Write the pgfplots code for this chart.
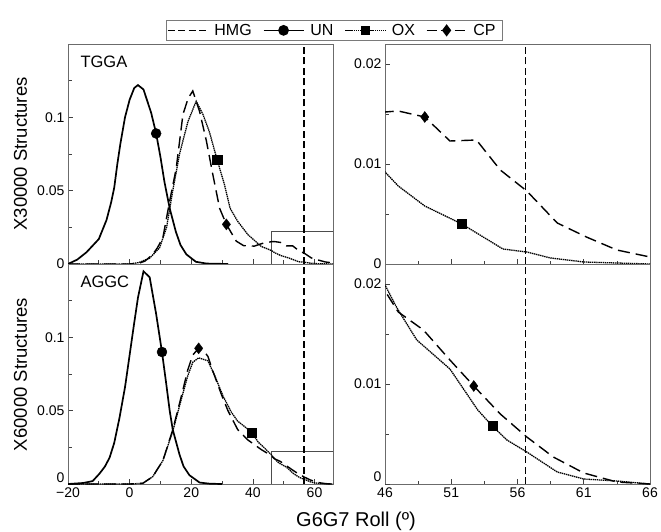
\documentclass[border=0pt]{standalone}
\usepackage{fontspec}
\setmainfont{Liberation Sans}
\usepackage{pgfplots}
\usepackage{pgfplotstable}
\pgfplotsset{compat=1.18}
\definecolor{frame}{gray}{0.42}

% ---------- TGGA (top) ----------
\pgfplotstableread{
x y
-20 0
-17 0.003
-14 0.008
-10 0.017
-7.5 0.030
-6 0.042
-5 0.052
-4 0.068
-3 0.082
-1.5 0.100
0 0.112
1.5 0.120
2.7 0.122
4.5 0.119
7 0.103
8.6 0.089
10 0.073
11.3 0.056
13 0.038
15 0.022
16.5 0.013
18.4 0.0066
21.5 0.0015
25 0.0003
32 0
}\unT
\pgfplotstableread{
x y
-20 0
0 0
3 0.001
6.5 0.004
9.7 0.011
12 0.025
14 0.050
16.2 0.075
18.9 0.097
21.6 0.111
23.8 0.102
25.9 0.090
28.4 0.071
30.8 0.054
32.6 0.038
35.1 0.029
38.4 0.020
42.7 0.012
46 0.0092
47 0.0078
49 0.0058
51.8 0.0040
54.9 0.0015
56.7 0.0012
58.5 0.0006
61 0.0002
66 0
}\oxT
\pgfplotstableread{
x y
-20 0
0 0
3 0.0005
5 0.002
7.5 0.0066
9 0.011
10.8 0.018
13 0.043
15.1 0.065
17.3 0.102
19 0.113
20.5 0.118
22.7 0.104
24.9 0.084
27 0.061
29.2 0.038
31.4 0.027
34.6 0.0156
37 0.0125
40.5 0.0122
43 0.014
46 0.0152
47 0.0153
49 0.0147
50.9 0.0123
52.9 0.0124
54.7 0.0094
56.7 0.0073
59 0.0041
61.2 0.0027
63.5 0.0014
66 0.0007
}\cpT
% ---------- AGGC (bottom) ----------
\pgfplotstableread{
x y
-20 0
-15 0.0007
-12 0.002
-9.8 0.007
-8 0.012
-6.5 0.018
-5 0.028
-3.3 0.045
-1.5 0.066
0 0.088
1.5 0.110
2.7 0.127
4.5 0.145
6.5 0.141
8.6 0.116
10.5 0.090
11.9 0.068
13 0.050
14 0.037
16.2 0.020
17.5 0.012
19.4 0.006
22.7 0.001
26 0.0002
30 0
}\unB
\pgfplotstableread{
x y
-20 0
0 0
4.3 0.0005
7.5 0.005
10.8 0.016
14 0.036
16.8 0.058
18.9 0.074
20.5 0.083
22.4 0.086
25.4 0.084
27.6 0.074
30.3 0.060
33 0.049
35 0.043
37.4 0.039
39.7 0.035
41.7 0.0286
43.8 0.0245
46 0.0199
46.9 0.0176
48.4 0.0144
50.9 0.0115
53 0.0074
54.1 0.0058
55.2 0.0044
56.7 0.0032
59 0.0012
61 0.0005
63.5 0.0003
66 0
}\oxB
\pgfplotstableread{
x y
-20 0
0 0
4.3 0.0005
7.5 0.005
10.8 0.016
14 0.037
16.8 0.060
18.9 0.078
20.5 0.088
22.4 0.0925
24 0.091
25.4 0.087
27 0.077
29.8 0.061
31.9 0.050
35.1 0.037
38.4 0.030
42.7 0.0235
46 0.0193
47 0.0172
48.9 0.0154
50.9 0.0124
52.7 0.0098
54.7 0.0070
56.7 0.0047
58.7 0.0027
61 0.0011
63.5 0.0002
66 0
}\cpB

\tikzset{lab/.style={anchor=base west, font=\fontsize{16.5}{16.5}\selectfont}}

\begin{document}
\begin{tikzpicture}
\useasboundingbox (0pt,0pt) rectangle (661pt,531pt);
\pgfplotsset{
 panel/.style={scale only axis, width=265pt, height=220pt, anchor=south west,
   axis line style={frame, line width=0.8pt},
   tick style={black!75, line width=0.7pt},
   tick align=inside, tick pos=left,
   major tick length=5pt, minor tick length=3.5pt,
   ticklabel style={font=\fontsize{14}{14}\selectfont},
   scaled y ticks=false, scaled x ticks=false,
   /pgf/number format/assume math mode=true},
 lpanel/.style={xmin=-20,xmax=66,ymin=0,ymax=0.15,
   xtick={-20,0,20,40,60}, minor xtick={-10,10,30,50},
   minor ytick={0.025,0.075,0.125}},
 rpanel/.style={xmin=46,xmax=66,ymin=0,ymax=0.022,
   xtick={46,51,56,61,66}, minor xtick={48.5,53.5,58.5,63.5},
   minor ytick={0.005,0.015}},
 hmg/.style={black, line width=1.3pt, dash pattern=on 7pt off 3.5pt},
 un/.style={black, line width=1.7pt},
 ox/.style={black, line width=1.3pt, dash pattern=on 1.4pt off 0.7pt},
 cp/.style={black, line width=1.4pt, dash pattern=on 12pt off 6pt},
 mun/.style={black, only marks, mark=*, mark size=5pt, forget plot},
 mox/.style={black, only marks, mark=square*, mark size=4.6pt, forget plot},
 mcp/.style={black, only marks, mark=diamond*, mark size=5.5pt, forget plot},
 zbox/.style={black!70, line width=0.8pt, solid, forget plot},
}

% ===== top left =====
\begin{axis}[panel, lpanel, at={(68pt,267pt)}, xticklabels={},
  ytick={0,0.05,0.1}, yticklabels={0,0.05,0.1},
  legend columns=4,
  legend style={at={(axis description cs:1.005,1.062)}, anchor=center,
    draw=frame!90, line width=0.8pt, font=\fontsize{16}{16}\selectfont,
    inner xsep=1pt, inner ysep=2pt,
    nodes={inner xsep=6pt},
    /tikz/every even column/.append style={column sep=5pt}},
  legend image code/.code={\draw[mark repeat=2,mark phase=2,#1] plot coordinates {(0pt,0pt)(20pt,0pt)(40pt,0pt)};}]
\addlegendimage{hmg}
\addlegendentry{HMG}
\addlegendimage{un, mark=*, mark size=4.5pt, mark options={solid}}
\addlegendentry{UN}
\addlegendimage{ox, mark=square*, mark size=4pt, mark options={solid}}
\addlegendentry{OX}
\addlegendimage{cp, dash pattern=on 10pt off 4pt, mark=diamond*, mark size=5pt, mark options={solid}}
\addlegendentry{CP}
\addplot[zbox] coordinates {(46,0)(46,0.022)(66,0.022)(66,0)};
\addplot[hmg, forget plot] coordinates {(56.6,0)(56.6,0.15)};
\addplot[un, forget plot] table {\unT};
\addplot[ox, forget plot] table {\oxT};
\addplot[cp, forget plot] table {\cpT};
\addplot[mun] coordinates {(8.6,0.089)};
\addplot[mox] coordinates {(28.4,0.071)};
\addplot[mcp] coordinates {(31.4,0.027)};
\node[lab] at (axis description cs:0.034,0.895) {TGGA};
\end{axis}

% ===== top right =====
\begin{axis}[panel, rpanel, at={(385pt,267pt)}, xticklabels={},
  ytick={0,0.01,0.02}, yticklabels={0,0.01,0.02}]
\addplot[hmg, forget plot] coordinates {(56.6,0)(56.6,0.022)};
\addplot[ox, forget plot] table {\oxT};
\addplot[cp, forget plot] table {\cpT};
\addplot[mcp] coordinates {(49,0.0147)};
\addplot[mox] coordinates {(51.8,0.0040)};
\end{axis}

% ===== bottom left =====
\begin{axis}[panel, lpanel, at={(68pt,47pt)}, xticklabels={−20,0,20,40,60},
  ytick={0.05,0.1}, yticklabels={0.05,0.1},
  extra y ticks={0}, extra y tick labels={0},
  extra y tick style={yticklabel style={yshift=6pt}}]
\addplot[zbox] coordinates {(46,0)(46,0.022)(66,0.022)(66,0)};
\addplot[hmg, forget plot] coordinates {(56.6,0)(56.6,0.15)};
\addplot[un, forget plot] table {\unB};
\addplot[ox, forget plot] table {\oxB};
\addplot[cp, forget plot] table {\cpB};
\addplot[mun] coordinates {(10.5,0.090)};
\addplot[mcp] coordinates {(22.4,0.0925)};
\addplot[mox] coordinates {(39.7,0.035)};
\node[lab] at (axis description cs:0.034,0.895) {AGGC};
\end{axis}

% ===== bottom right =====
\begin{axis}[panel, rpanel, at={(385pt,47pt)}, xticklabels={46,51,56,61,66},
  ytick={0.01,0.02}, yticklabels={0.01,0.02},
  extra y ticks={0}, extra y tick labels={0},
  extra y tick style={yticklabel style={yshift=7pt}}]
\addplot[hmg, forget plot] coordinates {(56.6,0)(56.6,0.022)};
\addplot[ox, forget plot] table {\oxB};
\addplot[cp, forget plot] table {\cpB};
\addplot[mcp] coordinates {(52.7,0.0098)};
\addplot[mox] coordinates {(54.1,0.0058)};
\end{axis}

\node[rotate=90, font=\fontsize{18.5}{18.5}\selectfont] at (20.5pt,377pt) {X30000 Structures};
\node[rotate=90, font=\fontsize{18.5}{18.5}\selectfont] at (20.5pt,156.5pt) {X60000 Structures};
\node[anchor=base, font=\fontsize{20}{20}\selectfont] at (356pt,5pt) {G6G7 Roll (º)};
\end{tikzpicture}
\end{document}
